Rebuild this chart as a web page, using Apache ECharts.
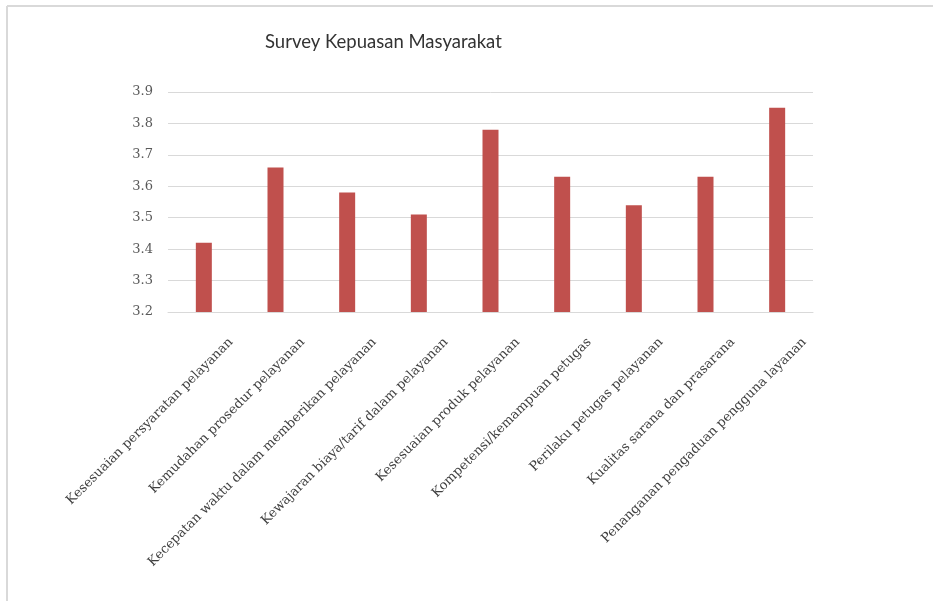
<!DOCTYPE html>
<html>
<head>
<meta charset="utf-8">
<script src="https://cdn.jsdelivr.net/npm/echarts@6/dist/echarts.min.js"></script>
<style>
html,body{margin:0;padding:0;background:#fff;}
#chart{width:933px;height:601px;}
</style>
</head>
<body>
<div id="chart"></div>
<script>
const chartTitle = 'Survey Kepuasan Masyarakat';
const categories = [
  'Kesesuaian persyaratan pelayanan',
  'Kemudahan prosedur pelayanan',
  'Kecepatan waktu dalam memberikan pelayanan',
  'Kewajaran biaya/tarif dalam pelayanan',
  'Kesesuaian produk pelayanan',
  'Kompetensi/kemampuan petugas',
  'Perilaku petugas pelayanan',
  'Kualitas sarana dan prasarana',
  'Penanganan pengaduan pengguna layanan'
];
const values = [3.42, 3.66, 3.58, 3.51, 3.78, 3.63, 3.54, 3.63, 3.85];
const yMin = 3.2;
const yMax = 3.9;
const yStep = 0.1;

const chart = echarts.init(document.getElementById('chart'));
chart.setOption({
  animation: false,
  backgroundColor: '#ffffff',
  graphic: [
    { type: 'line', shape: { x1: 7, y1: 6, x2: 933, y2: 6 }, style: { stroke: '#d9d9d9', lineWidth: 2 } },
    { type: 'line', shape: { x1: 7, y1: 6, x2: 7, y2: 601 }, style: { stroke: '#d9d9d9', lineWidth: 2 } }
  ],
  title: {
    text: chartTitle,
    left: 260,
    top: 28,
    textStyle: { fontFamily: 'Lato', fontSize: 18.5, fontWeight: 'normal', color: '#333333' }
  },
  grid: { left: 168, right: 120, top: 92, bottom: 289, containLabel: false },
  xAxis: {
    type: 'category',
    data: categories,
    axisLine: { show: true, lineStyle: { color: '#d9d9d9', width: 1 } },
    axisTick: { show: false },
    axisLabel: {
      interval: 0,
      rotate: 45,
      margin: 1,
      verticalAlign: 'top',
      padding: [32, 0, 0, 0],
      fontFamily: 'DejaVu Serif',
      fontSize: 13,
      color: '#404040'
    }
  },
  yAxis: {
    type: 'value',
    min: yMin,
    max: yMax,
    interval: yStep,
    axisLine: { show: false },
    axisTick: { show: false },
    splitLine: { show: true, lineStyle: { color: '#d9d9d9', width: 1 } },
    axisLabel: {
      margin: 15,
      fontFamily: 'DejaVu Serif',
      fontSize: 13,
      color: '#595959',
      formatter: v => v.toFixed(1)
    }
  },
  series: [{
    type: 'bar',
    data: values,
    barWidth: 16,
    itemStyle: { color: '#c0504d' }
  }]
});
</script>
</body>
</html>
